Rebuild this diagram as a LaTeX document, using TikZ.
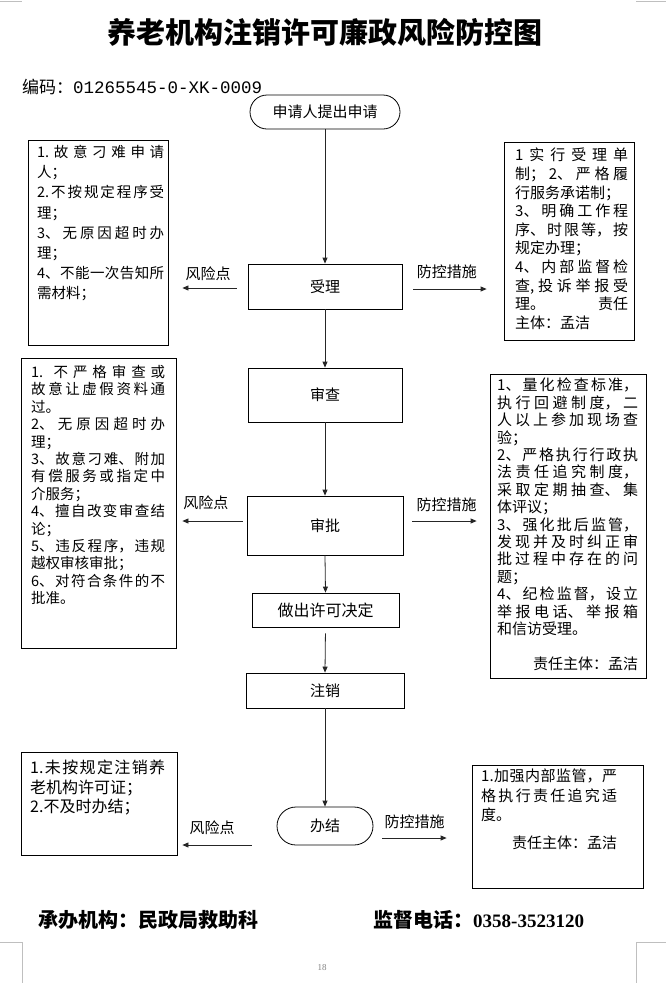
\documentclass[tikz,border=0pt]{standalone}
\usepackage{fontspec}
\setmainfont{Noto Sans CJK SC}
\newfontfamily\monof{Liberation Mono}
\newfontfamily\serf{Liberation Serif}
\usetikzlibrary{shapes.misc,arrows.meta}
\XeTeXlinebreaklocale "zh"
\XeTeXlinebreakskip=0pt plus 4pt
\tikzset{
  procbox/.style={draw, line width=0.8pt, inner sep=0pt, font=\fontsize{15}{18}\selectfont},
  startbox/.style={draw, rounded rectangle, line width=0.8pt, inner sep=0pt, font=\fontsize{15}{18}\selectfont},
  infobox/.style={draw, line width=0.8pt, inner sep=0pt},
  boxtext/.style={anchor=north west, inner sep=0pt, align=justify},
  arr/.style={draw=black!85, line width=0.8pt, -{Triangle[length=6pt,width=5pt]}},
  lbl/.style={font=\fontsize{15}{18}\selectfont, inner sep=0pt},
  mark/.style={}
}
\begin{document}
\begin{tikzpicture}[x=1pt,y=-1pt]
\useasboundingbox (0,0) rectangle (666,983);
% corner marks
\draw[gray!50, line width=1pt] (0,1) -- (22,1);
\draw[gray!50, line width=1pt] (636,1) -- (666,1);
\draw[gray!50, line width=0.8pt] (0,942) -- (22,942) -- (22,983);
\draw[gray!50, line width=0.8pt] (666,942) -- (636,942) -- (636,983);
\node[font=\serf\fontsize{9}{10}\selectfont, text=gray] (pg) at (322,968) {18};

% title and code
\node[font=\fontsize{29}{32}\selectfont\bfseries, inner sep=0pt] (title) at (325,32) {养老机构注销许可廉政风险防控图};
\node[anchor=west, inner sep=0pt, font=\fontsize{17}{20}\selectfont] (code) at (22,87) {编码：{\monof\fontsize{17.5}{20}\selectfont 01265545-0-XK-0009}};

% flow nodes
\node[startbox, minimum width=150, minimum height=34] (st) at (325,112) {申请人提出申请};
\node[procbox, minimum width=154, minimum height=45] (sl) at (325,286.5) {受理};
\node[procbox, minimum width=154, minimum height=54] (sc) at (325,395) {审查};
\node[procbox, minimum width=156, minimum height=59] (sp) at (325,525.5) {审批};
\node[procbox, minimum width=147, minimum height=34, font=\fontsize{16}{18}\selectfont] (zc) at (325.5,610) {做出许可决定};
\node[procbox, minimum width=158, minimum height=35] (zx) at (325,690.5) {注销};
\node[startbox, minimum width=96, minimum height=38] (bj) at (325,826) {办结};

% info boxes
\node[infobox, minimum width=140, minimum height=205] (r1) at (98,242.5) {};
\node[infobox, minimum width=130, minimum height=198] (m1) at (569,241) {};
\node[infobox, minimum width=155, minimum height=290] (r2) at (98.5,503) {};
\node[infobox, minimum width=156, minimum height=304] (m2) at (568,526) {};
\node[infobox, minimum width=156, minimum height=103] (r3) at (99,803.5) {};
\node[infobox, minimum width=171, minimum height=123] (m3) at (557.5,826.5) {};

% box texts
\node[boxtext, text width=127, font=\fontsize{14.5}{20.2}\selectfont] (t1) at (37,145) {%
1.故意刁难申请\linebreak 人；\par
2.不按规定程序受\linebreak 理；\par
3、无原因超时办\linebreak 理；\par
4、不能一次告知所\linebreak 需材料；};
\node[boxtext, text width=113, font=\fontsize{15}{18.6}\selectfont] (u1) at (515,148) {%
1 实行受理单\linebreak 制；2、严格履\linebreak 行服务承诺制；\par
3、明确工作程\linebreak 序、时限等，按\linebreak 规定办理；\par
4、内部监督检\linebreak 查,投诉举报受\linebreak 理。\hfill 责任\linebreak 主体：孟洁};
\node[boxtext, text width=134, font=\fontsize{14.5}{17.4}\selectfont] (t2) at (31,365) {%
1. 不严格审查或\linebreak 故意让虚假资料通\linebreak 过。\par
2、无原因超时办\linebreak 理；\par
3、故意刁难、附加\linebreak 有偿服务或指定中\linebreak 介服务；\par
4、擅自改变审查结\linebreak 论；\par
5、违反程序，违规\linebreak 越权审核审批；\par
6、对符合条件的不\linebreak 批准。};
\node[boxtext, text width=141, font=\fontsize{15}{17.4}\selectfont] (u2) at (497,378) {%
1、量化检查标准，\linebreak 执行回避制度，二\linebreak 人以上参加现场查\linebreak 验；\par
2、严格执行行政执\linebreak 法责任追究制度，\linebreak 采取定期抽查、集\linebreak 体评议；\par
3、强化批后监管，\linebreak 发现并及时纠正审\linebreak 批过程中存在的问\linebreak 题；\par
4、纪检监督，设立\linebreak 举报电话、举报箱\linebreak 和信访受理。\par
\vspace{17.4pt}\hbox to\hsize{\hfil 责任主体：孟洁}};
\node[boxtext, text width=135, font=\fontsize{16}{19.5}\selectfont] (t3) at (30,760) {%
1.未按规定注销养\linebreak 老机构许可证；\par
2.不及时办结；};
\node[boxtext, text width=136, font=\fontsize{15}{19.5}\selectfont] (u3) at (481,769) {%
1.加强内部监管，严\linebreak 格执行责任追究适\linebreak 度。\par
\vspace{8.5pt}\hbox to\hsize{\hfil 责任主体：孟洁}};

% vertical flow arrows
\draw[arr] (st.south) -- (sl.north);
\draw[arr] (sl.south) -- (sc.north);
\draw[arr] (sc.south) -- (sp.north);
\draw[arr] (sp.south) -- (zc.north);
\draw[arr, shorten <=6pt] (zc.south) -- (zx.north);
\draw[arr] (zx.south) -- (bj.north);

% side arrows
\draw[arr, shorten <=11pt, shorten >=14pt] ([yshift=-1.5pt]sl.west) -- ([yshift=-1.5pt]sl.west -| r1.east)
  node[lbl, above=7pt, midway] {风险点};
\draw[arr, shorten <=11pt, shorten >=17pt] ([yshift=-2.5pt]sl.east) -- ([yshift=-2.5pt]sl.east -| m1.west)
  node[lbl, above=10pt, pos=0.44] {防控措施};
\draw[arr, shorten <=4pt, shorten >=6pt] ([yshift=4.5pt]sp.west) -- ([yshift=4.5pt]sp.west -| r2.east)
  node[lbl, above=11pt, pos=0.58] {风险点};
\draw[arr, shorten <=9pt, shorten >=13pt] ([yshift=4.5pt]sp.east) -- ([yshift=4.5pt]sp.east -| m2.west)
  node[lbl, above=8.5pt, midway] {防控措施};
\draw[arr, shorten <=25pt, shorten >=5pt] ([yshift=-19pt]bj.west) -- ([yshift=-19pt]bj.west -| r3.east)
  node[lbl, above=9.5pt, pos=0.65] {风险点};
\draw[arr, shorten <=9pt, shorten >=25pt] ([yshift=-12pt]bj.east) -- ([yshift=-12pt]bj.east -| m3.west)
  node[lbl, above=8.5pt, pos=0.42] {防控措施};

% footer
\node[anchor=west, inner sep=0pt, font=\fontsize{20}{22}\selectfont\bfseries] (org) at (38,920) {承办机构：民政局救助科};
\node[anchor=west, inner sep=0pt, font=\fontsize{20}{22}\selectfont\bfseries] (tel) at (373,920) {监督电话：{\serf\bfseries\fontsize{19}{22}\selectfont 0358-3523120}};
\end{tikzpicture}
\end{document}
